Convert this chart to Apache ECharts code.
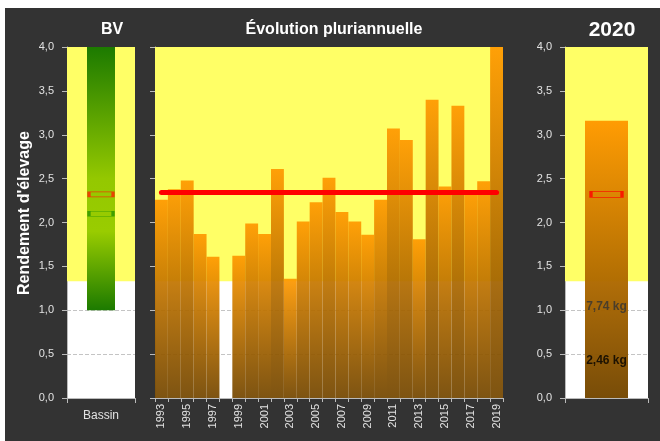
<!DOCTYPE html>
<html><head><meta charset="utf-8">
<script src="https://cdn.jsdelivr.net/npm/echarts@6/dist/echarts.min.js"></script>
<style>html,body{margin:0;padding:0;background:#fff}#c{width:660px;height:441px}</style>
</head><body><div id="c"></div><script>
// ---- Data ----
const annees = ['1993','1994','1995','1996','1997','1998','1999','2000','2001','2002','2003','2004','2005','2006','2007','2008','2009','2010','2011','2012','2013','2014','2015','2016','2017','2018','2019'];
const rendements = [2.26,2.38,2.48,1.87,1.61,null,1.62,1.99,1.87,2.61,1.36,2.01,2.23,2.51,2.12,2.01,1.86,2.26,3.07,2.94,1.81,3.40,2.41,3.33,2.36,2.47,4.30];
const moyennePluri = 2.35;
const bvCategorie = ['Bassin'];
const bvMin = [1.0];
const bvMax = [4.0];
const bvMarqueurRouge = [2.32];
const bvMarqueurVert = [2.10];
const categorie2020 = ['2020'];
const rendement2020 = [3.16];
const marqueur2020 = [2.32];
const etiquettes2020 = ['7,74 kg', '2,46 kg'];
const valeursEtiquettes2020 = [1.04, 0.42];
const seuilJaune = 1.33;
const yMin = 0, yMax = 4, yPas = 0.5;

// ---- Styles ----
const FONT = 'Liberation Sans, Arial, sans-serif';
const txt = '#e2e2e2';
const axisCol = '#bbbbbb';
const fmt = v => v.toFixed(1).replace('.', ',');
const orangeGrad = new echarts.graphic.LinearGradient(0,0,0,1,[{offset:0,color:'#ff9900'},{offset:1,color:'#744700'}]);
const greenGrad = new echarts.graphic.LinearGradient(0,0,0,1,[{offset:0,color:'#1c7a00'},{offset:0.5,color:'#94c800'},{offset:0.7,color:'#99cc00'},{offset:1,color:'#1c7a00'}]);

function yAx(idx, showLabels){
  return {
    type:'value', gridIndex: idx, min:yMin, max:yMax, interval:yPas,
    axisLine:{show:true, lineStyle:{color:axisCol, width:1}},
    axisTick:{show:true, length:5, lineStyle:{color:axisCol}},
    axisLabel:{show:showLabels, formatter:fmt, color:txt, fontSize:11, fontFamily:FONT, margin:13},
    splitLine:{show:true, lineStyle:{color:'#c4c4c4', type:'dashed', width:1}}
  };
}
function bgSeries(xi, yi){
  return {
    type:'line', xAxisIndex:xi, yAxisIndex:yi, data:[], z:1, silent:true,
    markArea:{silent:true, itemStyle:{color:'#ffff66', opacity:1},
      data:[[{yAxis:seuilJaune},{yAxis:yMax}]]}
  };
}

const chart = echarts.init(document.getElementById('c'), null, {renderer:'canvas'});
chart.setOption({
  backgroundColor:'#333333',
  animation:false,
  graphic:[
    {type:'rect', shape:{x:0,y:0,width:660,height:8}, style:{fill:'#ffffff'}, z:100},
    {type:'rect', shape:{x:0,y:0,width:5,height:441}, style:{fill:'#ffffff'}, z:100},
    {type:'text', x:25, y:213, rotation:Math.PI/2, style:{text:"Rendement d'élevage", fill:'#ffffff', font:'bold 16px '+FONT, align:'center', verticalAlign:'middle'}}
  ],
  title:[
    {text:'BV', left:107, top:17, textAlign:'center', textStyle:{color:'#fff', fontSize:16, fontWeight:'bold', fontFamily:FONT}},
    {text:'Évolution pluriannuelle', left:329, top:17, textAlign:'center', textStyle:{color:'#fff', fontSize:16, fontWeight:'bold', fontFamily:FONT}},
    {text:'2020', left:607, top:15, textAlign:'center', textStyle:{color:'#fff', fontSize:21, fontWeight:'bold', fontFamily:FONT}}
  ],
  grid:[
    {left:67, top:47, width:68, height:351, show:true, backgroundColor:'#ffffff', borderWidth:0},
    {left:155, top:47, width:348, height:351, show:true, backgroundColor:'#ffffff', borderWidth:0},
    {left:565, top:47, width:83, height:351, show:true, backgroundColor:'#ffffff', borderWidth:0}
  ],
  xAxis:[
    {type:'category', gridIndex:0, data:bvCategorie,
      axisLine:{lineStyle:{color:axisCol}}, axisTick:{show:true, length:5, lineStyle:{color:axisCol}},
      axisLabel:{color:txt, fontSize:12, fontFamily:FONT, margin:12}},
    {type:'category', gridIndex:1, data:annees,
      axisLine:{lineStyle:{color:axisCol}}, axisTick:{show:true, interval:0, length:4, lineStyle:{color:axisCol}},
      axisLabel:{color:txt, fontSize:11, fontFamily:FONT, rotate:90, interval:1, margin:6}},
    {type:'category', gridIndex:2, data:categorie2020,
      axisLine:{lineStyle:{color:axisCol}}, axisTick:{show:true, length:5, lineStyle:{color:axisCol}},
      axisLabel:{show:false}}
  ],
  yAxis:[ yAx(0,true), yAx(1,false), yAx(2,true) ],
  series:[
    bgSeries(0,0), bgSeries(1,1), bgSeries(2,2),
    // BV
    {type:'bar', xAxisIndex:0, yAxisIndex:0, stack:'bv', data:bvMin, barWidth:28, z:2, itemStyle:{color:'rgba(0,0,0,0)'}},
    {type:'bar', xAxisIndex:0, yAxisIndex:0, stack:'bv', data:bvMax.map((v,i)=>v-bvMin[i]), barWidth:28, z:2, itemStyle:{color:greenGrad}},
    {type:'scatter', xAxisIndex:0, yAxisIndex:0, data:bvMarqueurRouge, symbol:'rect', symbolSize:[24,5], z:4,
      itemStyle:{color:'rgba(0,0,0,0)', borderColor:'#ff2200', borderWidth:1.5}},
    {type:'scatter', xAxisIndex:0, yAxisIndex:0, data:bvMarqueurVert, symbol:'rect', symbolSize:[24,5], z:4,
      itemStyle:{color:'rgba(0,0,0,0)', borderColor:'#2a9400', borderWidth:1.5}},
    // Pluriannuel
    {type:'bar', xAxisIndex:1, yAxisIndex:1, data:rendements, barCategoryGap:'0%', z:2,
      itemStyle:{color:orangeGrad, opacity:0.93},
      markLine:{silent:true, symbol:['none','none'], z:5,
        lineStyle:{color:'#ff0000', width:5, type:'solid', cap:'round'}, label:{show:false},
        data:[[{coord:[annees[0], moyennePluri]},{coord:[annees[annees.length-1], moyennePluri]}]]}},
    // 2020
    {type:'bar', xAxisIndex:2, yAxisIndex:2, data:rendement2020, barWidth:43, z:2,
      itemStyle:{color:orangeGrad, opacity:0.97}},
    {type:'scatter', xAxisIndex:2, yAxisIndex:2, data:marqueur2020, symbol:'rect', symbolSize:[31,6], z:4,
      itemStyle:{color:'rgba(0,0,0,0)', borderColor:'#ff0000', borderWidth:1.5}},
    {type:'scatter', xAxisIndex:2, yAxisIndex:2, z:5, symbolSize:0,
      data:valeursEtiquettes2020.map((v,i)=>({value:[categorie2020[0], v], name:etiquettes2020[i],
        label:{color: i===0 ? '#333333' : '#000000'}})),
      label:{show:true, position:'inside', formatter:p=>p.name, fontSize:12, fontWeight:'bold', fontFamily:FONT}}
  ]
});
</script></body></html>
